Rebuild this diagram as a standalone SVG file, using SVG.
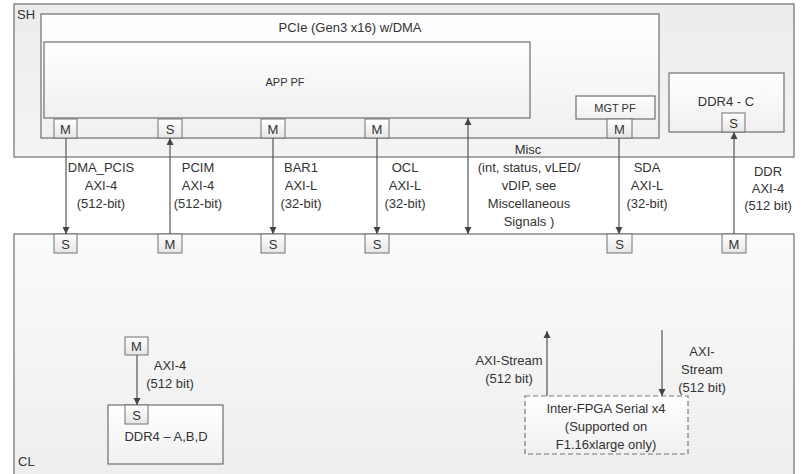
<svg xmlns="http://www.w3.org/2000/svg" width="805" height="474" viewBox="0 0 805 474">
<style>
text{font-family:"Liberation Sans",Arial,sans-serif;font-size:13px;fill:#333;}
.c{text-anchor:middle;}
.box{stroke:#6e6e6e;stroke-width:1.2;}
.port{fill:url(#gp);stroke:#707070;stroke-width:1;}
.ln{stroke:#555;stroke-width:1.2;fill:none;}
.pt{font-size:13px;}
</style>
<defs>
<linearGradient id="gbg" x1="0" y1="0" x2="0" y2="1"><stop offset="0" stop-color="#ececec"/><stop offset="1" stop-color="#f4f4f4"/></linearGradient>
<linearGradient id="gcl" x1="0" y1="0" x2="0" y2="1"><stop offset="0" stop-color="#fbfbfb"/><stop offset="1" stop-color="#eeeeee"/></linearGradient>
<linearGradient id="gw" x1="0" y1="0" x2="0" y2="1"><stop offset="0" stop-color="#ffffff"/><stop offset="1" stop-color="#f0f0f0"/></linearGradient>
<linearGradient id="gp" x1="0" y1="0" x2="0" y2="1"><stop offset="0" stop-color="#ffffff"/><stop offset="1" stop-color="#e6e6e6"/></linearGradient>
<marker id="ah" viewBox="0 0 10 10" refX="10" refY="5" markerWidth="7" markerHeight="8" markerUnits="userSpaceOnUse" orient="auto-start-reverse"><path d="M0,0 L10,5 L0,10 z" fill="#444"/></marker>
</defs>

<g id="SH">
<rect class="box" x="14" y="4" width="780" height="153" fill="url(#gbg)"/>
<text x="17" y="19">SH</text>
</g>
<g id="CL">
<rect class="box" x="14" y="234" width="780" height="245" fill="url(#gcl)"/>
<text x="18" y="466">CL</text>
</g>
<g id="PCIe">
<rect class="box" x="41" y="14" width="618" height="124" fill="url(#gw)"/>
<text class="c" x="350" y="32">PCIe (Gen3 x16) w/DMA</text>
</g>
<g id="APPPF">
<rect class="box" x="44" y="42" width="486" height="76" fill="url(#gw)"/>
<text class="c" x="285" y="86" style="font-size:11px">APP PF</text>
</g>
<g id="MGTPF">
<rect class="box" x="576" y="96" width="79" height="23" fill="url(#gw)"/>
<text class="c" x="615" y="112" style="font-size:11px">MGT PF</text>
</g>
<g id="DDR4C">
<rect class="box" x="669" y="73" width="115" height="59" fill="url(#gw)"/>
<text class="c" x="726" y="106">DDR4 - C</text>
</g>
<g id="DDR4ABD">
<rect class="box" x="108" y="405" width="115" height="59" fill="url(#gw)"/>
<text class="c" x="166" y="441">DDR4 – A,B,D</text>
</g>
<g id="InterFPGA">
<rect x="525" y="396" width="163" height="58" fill="url(#gw)" stroke="#777" stroke-width="1.2" stroke-dasharray="5,3"/>
<text class="c" x="606" y="413">Inter-FPGA Serial x4</text>
<text class="c" x="606" y="431">(Supported on</text>
<text class="c" x="606" y="449">F1.16xlarge only)</text>
</g>

<g id="ports">
<rect class="port" x="54" y="119" width="23" height="19"/><text class="c pt" x="65.5" y="134">M</text>
<rect class="port" x="158" y="119" width="24" height="19"/><text class="c pt" x="170" y="134">S</text>
<rect class="port" x="261" y="119" width="24" height="19"/><text class="c pt" x="273" y="134">M</text>
<rect class="port" x="365" y="119" width="24" height="19"/><text class="c pt" x="377" y="134">M</text>
<rect class="port" x="607" y="119" width="25" height="19"/><text class="c pt" x="619.5" y="134">M</text>
<rect class="port" x="722" y="113" width="23" height="19"/><text class="c pt" x="733.5" y="128">S</text>

<rect class="port" x="54" y="234" width="23" height="19"/><text class="c pt" x="65.5" y="249">S</text>
<rect class="port" x="158" y="234" width="24" height="19"/><text class="c pt" x="170" y="249">M</text>
<rect class="port" x="261" y="234" width="24" height="19"/><text class="c pt" x="273" y="249">S</text>
<rect class="port" x="365" y="234" width="24" height="19"/><text class="c pt" x="377" y="249">S</text>
<rect class="port" x="607" y="234" width="25" height="19"/><text class="c pt" x="619.5" y="249">S</text>
<rect class="port" x="722" y="234" width="24" height="19"/><text class="c pt" x="734" y="249">M</text>

<rect class="port" x="125" y="337" width="23" height="18"/><text class="c pt" x="136.5" y="351">M</text>
<rect class="port" x="125" y="405" width="23" height="19"/><text class="c pt" x="136.5" y="420">S</text>
</g>

<g id="connectors">
<line class="ln" x1="66" y1="138" x2="66" y2="234" marker-end="url(#ah)"/>
<line class="ln" x1="170" y1="234" x2="170" y2="138" marker-end="url(#ah)"/>
<line class="ln" x1="273" y1="138" x2="273" y2="234" marker-end="url(#ah)"/>
<line class="ln" x1="377" y1="138" x2="377" y2="234" marker-end="url(#ah)"/>
<line class="ln" x1="468" y1="118" x2="468" y2="234" marker-start="url(#ah)" marker-end="url(#ah)"/>
<line class="ln" x1="619" y1="138" x2="619" y2="234" marker-end="url(#ah)"/>
<line class="ln" x1="734" y1="234" x2="734" y2="132" marker-end="url(#ah)"/>
<line class="ln" x1="137" y1="355" x2="137" y2="405" marker-end="url(#ah)"/>
<line class="ln" x1="547" y1="396" x2="547" y2="331" marker-end="url(#ah)"/>
<line class="ln" x1="662" y1="330" x2="662" y2="396" marker-end="url(#ah)"/>
</g>

<g id="labels">
<text class="c" x="101" y="172">DMA_PCIS</text>
<text class="c" x="101" y="190">AXI-4</text>
<text class="c" x="101" y="208">(512-bit)</text>
<text class="c" x="198" y="172">PCIM</text>
<text class="c" x="198" y="190">AXI-4</text>
<text class="c" x="198" y="208">(512-bit)</text>
<text class="c" x="301" y="172">BAR1</text>
<text class="c" x="301" y="190">AXI-L</text>
<text class="c" x="301" y="208">(32-bit)</text>
<text class="c" x="405" y="172">OCL</text>
<text class="c" x="405" y="190">AXI-L</text>
<text class="c" x="405" y="208">(32-bit)</text>
<text class="c" x="528" y="154">Misc</text>
<text class="c" x="529" y="172">(int, status, vLED/</text>
<text class="c" x="529" y="190">vDIP, see</text>
<text class="c" x="529" y="208">Miscellaneous</text>
<text class="c" x="529" y="226">Signals )</text>
<text class="c" x="647" y="172">SDA</text>
<text class="c" x="647" y="190">AXI-L</text>
<text class="c" x="647" y="208">(32-bit)</text>
<text class="c" x="768" y="176">DDR</text>
<text class="c" x="768" y="193">AXI-4</text>
<text class="c" x="768" y="210">(512 bit)</text>
<text class="c" x="170" y="370">AXI-4</text>
<text class="c" x="170" y="388">(512 bit)</text>
<text class="c" x="509" y="365">AXI-Stream</text>
<text class="c" x="509" y="383">(512 bit)</text>
<text class="c" x="702" y="356">AXI-</text>
<text class="c" x="702" y="374">Stream</text>
<text class="c" x="702" y="392">(512 bit)</text>
</g>
</svg>
